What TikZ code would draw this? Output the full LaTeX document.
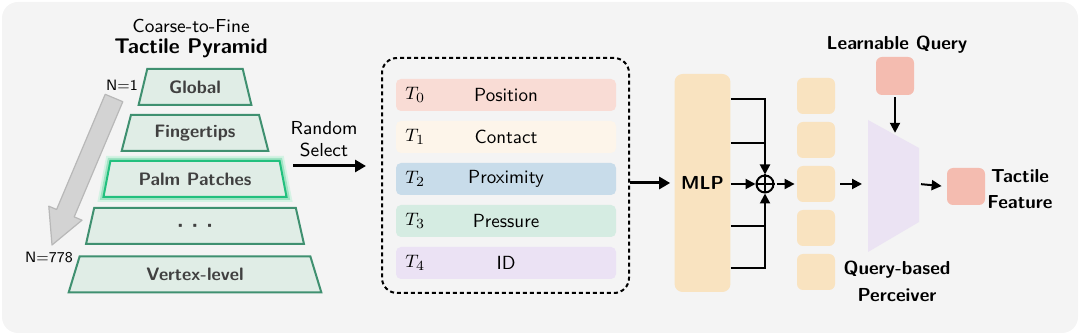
\documentclass[tikz,border=0pt]{standalone}
\usepackage{amsmath}
\usepackage{amssymb}
\usepackage{xcolor}
\usepackage{tikz}
\usetikzlibrary{shapes.geometric,arrows.meta}
\renewcommand{\familydefault}{\sfdefault}

\definecolor{bgGray}{HTML}{F4F4F4}
\definecolor{lvlFill}{HTML}{E0EDE6}
\definecolor{lvlLine}{HTML}{3F9070}
\definecolor{palmLine}{HTML}{22C07E}
\definecolor{glow}{HTML}{9FE3C3}
\definecolor{labelGray}{HTML}{404040}
\definecolor{posFill}{HTML}{F9DCD5}
\definecolor{conFill}{HTML}{FDF5EA}
\definecolor{proFill}{HTML}{C8DCEA}
\definecolor{preFill}{HTML}{D5ECE2}
\definecolor{idFill}{HTML}{EBE2F4}
\definecolor{mlpFill}{HTML}{F9E3C0}
\definecolor{qFill}{HTML}{F4BCB0}
\definecolor{percFill}{HTML}{EBE3F3}
\definecolor{arrowGray}{HTML}{D3D3D3}
\definecolor{arrowEdge}{HTML}{B8B8B8}

\tikzset{
  level/.style={trapezium, trapezium angle=70, trapezium stretches=true, draw=lvlLine, fill=lvlFill,
    line width=1pt, minimum height=18pt, inner sep=0pt, text=labelGray,
    font=\fontsize{9}{11}\selectfont\bfseries},
  row/.style={rectangle, rounded corners=2.5pt, minimum width=110pt, minimum height=16pt,
    inner sep=0pt, font=\fontsize{9.5}{11}\selectfont},
  tok/.style={rectangle, rounded corners=3pt, fill=mlpFill, minimum width=19pt,
    minimum height=18pt, inner sep=0pt},
  link/.style={line width=1pt, -{Triangle[length=5pt,width=5pt]}},
  bold arrow/.style={line width=1.5pt, -{Triangle[length=5.5pt,width=6pt]}},
  bold label/.style={font=\fontsize{9.4}{13}\selectfont\bfseries, align=center},
}

\begin{document}
\begin{tikzpicture}[x=0.5pt, y=-0.5pt]
    \useasboundingbox (0,0) rectangle (1080,335);
    \fill[bgGray, rounded corners=8pt] (2,2) rectangle (1078,333);

    \node[font=\fontsize{9.4}{11}\selectfont] (coarse) at (191,26) {Coarse-to-Fine};
    \node[font=\fontsize{10.6}{12}\selectfont\bfseries] (pyramid) at (191,48) {Tactile Pyramid};

    \fill[arrowGray, draw=arrowEdge, line width=0.6pt, line join=round]
        (105.2,94.3) -- (122.8,101.7) -- (74.2,216.9) -- (82,220.2) -- (52,245)
        -- (48.8,206.2) -- (56.6,209.5) -- cycle;
    \node[font=\fontsize{7.5}{8}\selectfont] (nfirst) at (122,85) {N=1};
    \node[font=\fontsize{7.5}{8}\selectfont] (nlast) at (49,257) {N=778};

    \node[level, minimum width=56.5pt] (global) at (195,87) {Global};
    \node[level, minimum width=73.5pt] (finger) at (195,133) {Fingertips};
    \node[level, minimum width=92pt, draw=palmLine,
        preaction={draw=glow!45, line width=5pt},
        preaction={draw=glow, line width=3pt}] (palm) at (195,179) {Palm Patches};
    \node[level, minimum width=109pt] (dots) at (195,226)
        {\fontsize{5}{5}\selectfont\textbullet\hspace{3pt}\textbullet\hspace{3pt}\textbullet};
    \node[level, minimum width=127pt] (vertex) at (195,274.5) {Vertex-level};

    \node[font=\fontsize{9.4}{11}\selectfont, align=center] (rs) at (324,139) {Random\\Select};
    \coordinate (rsL) at (293,166);
    \coordinate (rsR) at (366,166);
    \draw[bold arrow] (rsL) -- (rsR);

    \node[draw, line width=1pt, dash pattern=on 2pt off 1.5pt, rounded corners=7.5pt,
        minimum width=123.5pt, minimum height=117.5pt] (pool) at (505.5,175.5) {};
    \node[row, fill=posFill] (pos) at (506,95) {Position};
    \node[row, fill=conFill] (con) at (506,137) {Contact};
    \node[row, fill=proFill] (pro) at (506,179) {Proximity};
    \node[row, fill=preFill] (pre) at (506,221) {Pressure};
    \node[row, fill=idFill] (ident) at (506,263) {ID};
    \node[anchor=west, inner sep=0pt, font=\fontsize{9.5}{11}\selectfont] (t0) at (405,95) {$T_0$};
    \node[anchor=west, inner sep=0pt, font=\fontsize{9.5}{11}\selectfont] (t1) at (405,137) {$T_1$};
    \node[anchor=west, inner sep=0pt, font=\fontsize{9.5}{11}\selectfont] (t2) at (405,179) {$T_2$};
    \node[anchor=west, inner sep=0pt, font=\fontsize{9.5}{11}\selectfont] (t3) at (405,221) {$T_3$};
    \node[anchor=west, inner sep=0pt, font=\fontsize{9.5}{11}\selectfont] (t4) at (405,263) {$T_4$};

    \node[rectangle, rounded corners=4pt, fill=mlpFill, minimum width=23.5pt, minimum height=109pt,
        font=\fontsize{9.4}{12}\selectfont\bfseries] (mlp) at (702.5,183) {MLP};
    \draw[bold arrow, shorten >=2pt] (pool.east |- mlp.west) -- (mlp.west);

    \node[circle, draw, line width=1pt, minimum size=8.5pt, inner sep=0pt] (sum) at (765,184) {};
    \draw[line width=1pt] (sum.north) -- (sum.south) (sum.west) -- (sum.east);
    \coordinate (b1) at (765,99);
    \coordinate (b2) at (765,143);
    \coordinate (b3) at (765,226);
    \coordinate (b4) at (765,268);
    \draw[link] (mlp.east |- b1) -- (b1) -- (sum.north);
    \draw[line width=1pt] (mlp.east |- b2) -- (b2);
    \draw[link] (mlp.east |- b4) -- (b4) -- (sum.south);
    \draw[line width=1pt] (mlp.east |- b3) -- (b3);
    \draw[link] (mlp.east |- sum) -- (sum.west);

    \node[tok] (tok1) at (816,96) {};
    \node[tok] (tok2) at (816,140) {};
    \node[tok] (tok3) at (816,184) {};
    \node[tok] (tok4) at (816,228) {};
    \node[tok] (tok5) at (816,272) {};
    \draw[link, shorten <=1pt, shorten >=1pt] (sum.east) -- (tok3.west);

    \fill[percFill] (868,120) -- (919,148) -- (919,222) -- (868,252) -- cycle;
    \coordinate (pin) at (868,184);
    \coordinate (pout) at (919,184);
    \coordinate (ptop) at (895,134.8);
    \draw[link, shorten <=2.5pt, shorten >=3pt] (tok3.east) -- (pin);

    \node[bold label] (lq) at (897,45) {Learnable Query};
    \node[tok, fill=qFill, minimum height=19pt] (query) at (895,76) {};
    \draw[link, shorten <=1pt, shorten >=1pt] (query.south) -- (ptop);

    \node[tok, fill=qFill, minimum height=18.5pt] (feat) at (966,186.5) {};
    \draw[link, shorten <=1pt, shorten >=2.5pt] (pout) -- (feat.west);
    \node[bold label] (featlabel) at (1020,189) {Tactile\\Feature};
    \node[bold label, font=\fontsize{9.4}{13.5}\selectfont\bfseries] (perclabel) at (897,281) {Query-based\\Perceiver};
\end{tikzpicture}
\end{document}
